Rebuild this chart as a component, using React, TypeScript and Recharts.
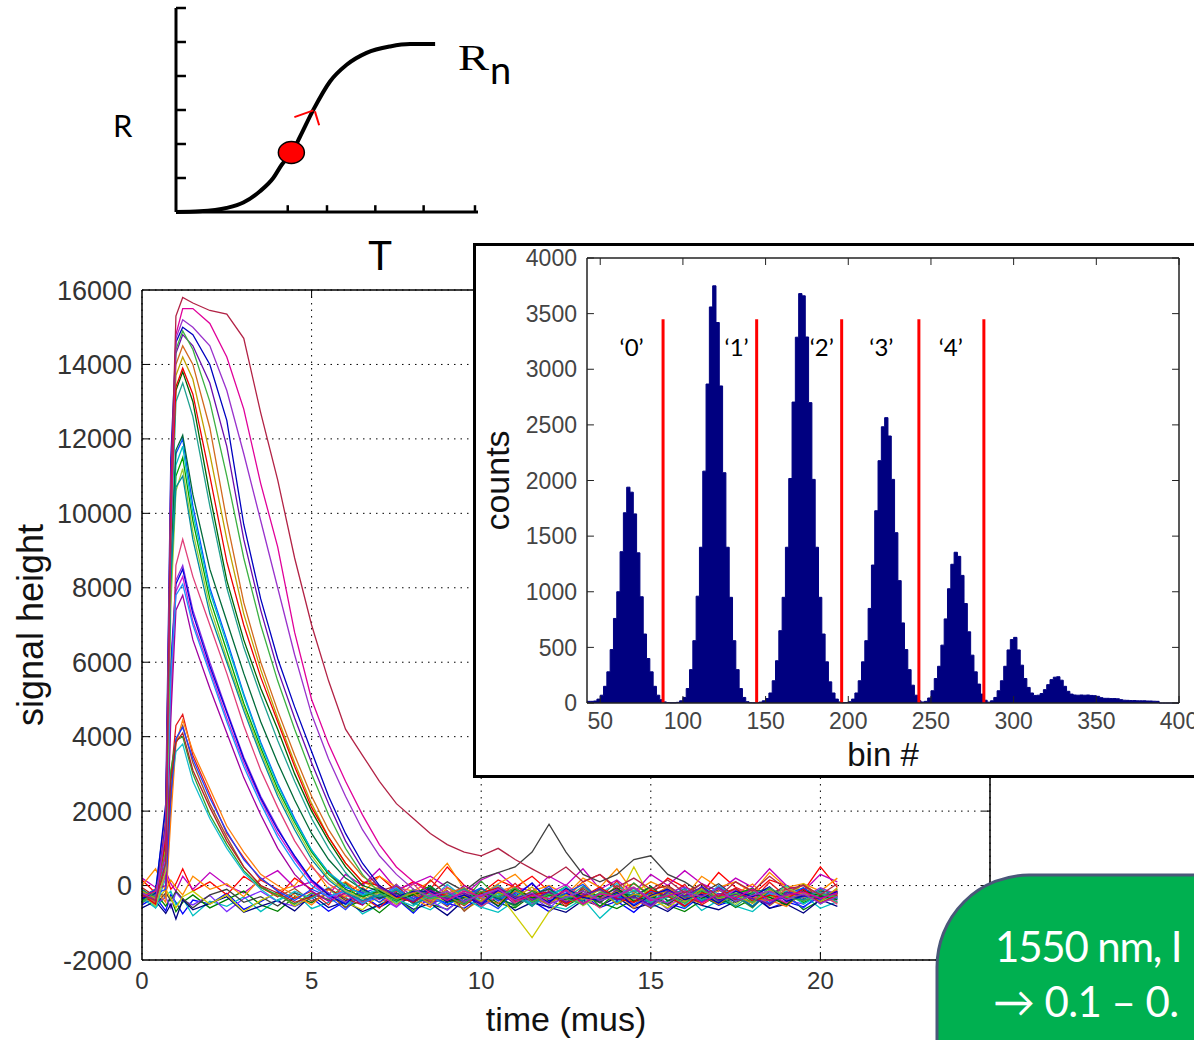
import React from 'react';
import {
  LineChart, Line, XAxis, YAxis, CartesianGrid, ReferenceLine, ReferenceDot,
  ComposedChart, Area, Scatter,
} from 'recharts';

const SANS = '"Liberation Sans", Arial, sans-serif';
const HUMANIST = 'Lato, "Open Sans", sans-serif';

// ---------- R(T) sketch ----------
const rtT = [0, 0.79, 1.68, 2.23, 2.78, 3.22, 3.5, 3.83, 4.11, 4.55, 5.1, 5.65, 6.31, 7.09, 7.75, 8.58];
const rtR = [0, 0.02, 0.12, 0.28, 0.61, 1.0, 1.39, 1.74, 2.22, 3.01, 3.84, 4.33, 4.68, 4.87, 4.94, 4.94];
const rtTTicks = [3.7, 5.0, 6.6, 8.2, 9.9];
const rtRTicks = [1, 2, 3, 4, 5, 6];
const rtBiasPoint = { T: 3.82, R: 1.75 };
const rtSlopeMarks = [
  [{ x: 3.92, y: 2.79 }, { x: 4.55, y: 2.99 }],
  [{ x: 4.6, y: 2.96 }, { x: 4.74, y: 2.55 }],
];

// ---------- pulse traces (signal height vs time) ----------
const timeGrid = [0, 0.4, 0.7, 0.85, 1, 1.2, 1.5, 2, 2.5, 3, 3.5, 4, 4.5, 5, 5.5, 6, 6.5, 7, 7.5, 8,
  8.5, 9, 9.5, 10, 10.5, 11, 11.5, 12, 12.5, 13, 13.5, 14, 14.5, 15, 15.5, 16, 16.5, 17, 17.5, 18,
  18.5, 19, 19.5, 20, 20.5];
const timeTicks = [0, 5, 10, 15, 20, 25];
const signalTicks = [-2000, 0, 2000, 4000, 6000, 8000, 10000, 12000, 14000, 16000];

// no-photon traces
const z1 = [-520, -310, -680, -240, -450, -760, -390, -500, -210, -640, -430, -170, -560, -330, -690, -420, -260, -580, -350, -740, -280, -470, -610, -300, -540, -190, -410, -700, -360, -230, -590, -420, -720, -310, -480, -620, -270, -530, -380, -160, -610, -440, -570, -290, -460];
const z2 = [150, -200, 300, -100, 50, 450, -150, 100, -250, 250, -50, -300, 200, -100, 400, -200, 50, 250, -150, 100, -100, 500, 0, -200, 150, -50, 250, -150, -300, 100, 300, -100, 50, -250, 200, -50, -200, 350, -50, -250, 150, 0, -150, 500, -50];
const z3 = [-350, -600, -280, -150, -520, -340, -810, -420, -560, -300, -700, -380, -180, -620, -450, -300, -760, -520, -240, -470, -650, -330, -200, -580, -720, -410, -280, -530, -640, -350, -880, -460, -300, -590, -420, -220, -670, -390, -550, -700, -310, -480, -260, -610, -430];
const z4 = [200, -50, 400, 50, -150, 250, -100, 350, 0, -200, 150, 400, -50, 100, -250, 300, 0, 450, -100, 50, 250, -50, -250, 150, 350, -50, -150, 250, 0, 450, -100, 150, -200, 300, 0, 400, 50, -150, 200, -50, 450, 0, -150, 300, 100];
const z5 = [-400, -200, -550, -320, -700, -450, -250, -600, -380, -150, -520, -690, -300, -460, -200, -580, -400, -730, -350, -240, -500, -640, -330, -180, -470, -600, -260, -420, -550, -290, -450, -620, -380, -200, -530, -700, -400, -280, -590, -350, -480, -220, -650, -400, -300];
const z6 = [-250, -480, -320, -600, -180, -400, -520, -260, -700, -350, -150, -430, -560, -240, -380, -90, -470, -310, -580, -200, -420, -660, -280, -350, -140, -500, -300, -610, -220, -450, -330, -180, -510, -270, -640, -360, -120, -440, -290, -560, -230, -390, -500, -180, -340];
const z7 = [0, 450, -150, 150, -50, -250, 250, -100, 50, -300, 200, -150, 0, 550, -100, 100, -200, 250, -50, -150, 100, 600, -100, -250, 50, 300, -150, 0, -250, 200, -50, 450, -200, 100, -100, -300, 250, -50, 100, -200, 350, -50, 50, -150, 200];
const z8 = [-600, -420, -750, -500, -900, -380, -650, -480, -300, -720, -550, -400, -680, -260, -590, -430, -700, -520, -350, -640, -480, -800, -390, -560, -300, -670, -450, -580, -720, -400, -550, -310, -620, -480, -700, -360, -530, -650, -420, -280, -610, -500, -740, -380, -560];
const gLate = [-300, -500, -200, -400, -150, -350, -600, -250, -100, -450, -300, -550, -200, -350, -80, -400, -250, -150, -500, -300, -200, 100, -150, 200, 350, 500, 900, 1650, 900, 300, 100, 300, 700, 800, 300, 100, -200, 50, -300, -100, -250, 0, -350, -150, -200];
const yDip = [-200, -450, -100, -350, -600, -300, -150, -500, -250, -700, -400, -200, -550, -300, -100, -450, -650, -250, -400, -150, -500, -300, -650, -400, -200, -800, -1400, -700, -300, -500, -200, -400, 500, -350, -600, -250, -100, -450, -300, -550, -200, -350, 50, -300, -450];

// one-photon traces
const a1 = [-250, -420, 300, 2900, 4300, 4600, 3500, 2450, 1400, 750, 150, -100, -350, -150, -520, 80, -300, -610, -120, -380, 150, -260, -480, -90, -350, 60, -410, -200, -560, -30, -330, 120, -450, -180, -290, 30, -520, -240, -80, -400, 90, -310, -150, -470, -220];
const a2 = [-480, -150, -300, 2200, 3900, 4300, 3300, 2200, 1300, 500, 0, -300, -80, -420, -220, -600, -100, -350, 40, -500, -260, -130, -690, -310, 20, -380, -150, -520, -60, -290, -440, 10, -350, -600, -180, -270, 50, -420, -320, -90, -540, -210, 30, -360, -250];
const a3 = [-100, -350, 600, 3100, 3900, 4000, 3000, 1900, 1100, 400, -50, -250, -500, -200, -380, 60, -450, -170, -320, -700, -90, -240, -410, 120, -330, -560, -140, -280, -20, -470, -230, -380, 70, -310, -520, -160, -400, -40, -290, -600, -130, -350, -210, -480, -100];
const a4 = [-320, -80, -450, 1800, 3800, 4450, 3600, 2600, 1600, 900, 300, 0, -260, -520, -110, -300, -40, -460, -190, -350, -580, -70, -240, -410, -150, -30, -500, -270, -360, 100, -420, -190, -610, -250, -80, -340, -470, -130, -220, 40, -390, -560, -180, -300, -120];
const a5 = [-200, -600, 200, 2600, 3600, 3800, 2800, 1800, 1000, 350, -100, -420, -150, -350, -50, -520, -280, -100, -460, -210, -380, 30, -330, -600, -170, -250, -440, -80, -310, -500, -210, 60, -380, -150, -290, -530, -60, -220, -410, -140, -330, 0, -470, -260, -180];
const a6 = [-380, -220, -100, 2400, 3950, 4250, 3400, 2350, 1450, 700, 200, -150, -400, -100, -300, -650, -200, -50, -380, -170, -520, -280, -90, -350, -620, -150, -300, -20, -460, -260, -130, -400, -210, -550, -30, -320, -180, -490, -250, -70, -420, -300, -600, -200, -350];
const a7 = [-50, -300, 450, 2800, 3850, 4100, 3100, 2100, 1200, 500, 0, -200, -450, -300, -80, -350, -520, -150, -10, -400, -250, -560, -120, -290, -20, -430, -310, -190, -500, -80, -360, -250, -420, -120, 0, -300, -460, -210, -380, -100, -240, -500, -60, -330, -150];

// two-photon traces
const b1 = [-300, -150, 1200, 6000, 8200, 8600, 7400, 6000, 4700, 3450, 2400, 1550, 750, 150, -200, -450, -150, -380, 20, -290, -510, -170, -340, -60, -420, -230, 50, -380, -150, -480, -260, -90, -350, -560, -200, -40, -310, -450, -120, -270, -500, -180, -330, -60, -240];
const b2 = [-450, -200, 500, 5200, 7900, 8300, 7100, 5800, 4500, 3300, 2300, 1400, 700, 100, -350, -150, -420, -230, -560, -100, -300, -40, -470, -260, -350, -120, -490, -200, 30, -330, -440, -160, -270, -50, -520, -300, -180, -400, -90, -350, -220, -460, -130, -280, -400];
const b3 = [-150, -400, 900, 5800, 8100, 8500, 7300, 5900, 4650, 3400, 2350, 1500, 800, 150, -250, -500, -80, -330, -200, -450, -10, -380, -260, -540, -150, -300, 70, -420, -210, -350, -80, -510, -240, -320, -130, -460, -20, -380, -250, -560, -150, -300, -90, -420, -330];
const b4 = [-250, -500, 300, 4800, 8600, 9300, 8300, 7000, 5700, 4300, 3100, 2100, 1200, 500, 50, -250, -480, -100, -320, 40, -400, -230, -130, -560, -280, -50, -350, -190, -420, -300, -600, -150, -40, -380, -260, -110, -450, -330, -70, -250, -480, -160, -310, -220, -500];
const b5 = [-350, -100, 0, 4500, 7400, 7800, 6600, 5300, 4100, 2900, 1900, 1000, 300, -150, -420, -200, -520, -60, -300, -180, -450, -350, 0, -270, -140, -500, -320, -80, -380, -200, -470, -100, -300, -420, -180, -550, -250, -60, -350, -460, -200, -100, -400, -280, -150];
const b6 = [-200, -350, 700, 5600, 7800, 8100, 7000, 5700, 4400, 3200, 2200, 1300, 600, 0, -300, -150, -480, -250, -60, -400, -310, -520, -140, -280, 10, -370, -460, -200, -100, -530, -240, -350, -60, -420, -280, -150, -390, 0, -320, -470, -210, -280, -120, -500, -200];

// three-photon traces
const c1 = [-300, -100, 2000, 9000, 11600, 12000, 10200, 8000, 6600, 5150, 3850, 2750, 1800, 950, 350, -50, -200, -450, -100, -350, -200, -520, -280, -60, -400, -150, -330, -480, -200, 30, -370, -260, -520, -140, -300, -80, -440, -210, -350, -100, -480, -240, -60, -380, -280];
const c2 = [-400, -250, 900, 8000, 11000, 11500, 9800, 7700, 6300, 4900, 3700, 2600, 1700, 900, 300, -100, -300, -150, -420, -230, -10, -360, -500, -170, -300, -90, -440, -260, -370, -120, -560, -200, -310, -40, -420, -150, -300, -500, -220, -80, -390, -160, -450, -300, -200];
const c3 = [-150, -450, 1500, 8700, 11300, 11800, 10000, 7900, 6500, 5100, 3800, 2700, 1750, 950, 350, 0, -250, -100, -380, -550, -200, -320, -60, -430, -250, -150, -520, -300, -40, -380, -200, -460, -120, -350, -250, -600, -170, -320, -80, -410, -270, -150, -500, -230, -350];
const c4 = [-250, -550, 400, 7500, 10600, 11200, 9500, 7500, 6100, 4800, 3600, 2500, 1600, 800, 200, -150, -350, -200, -500, -100, -280, -430, -150, -330, -20, -470, -250, -360, -110, -540, -280, -180, -400, -70, -300, -450, -190, -260, -510, -130, -350, -40, -290, -430, -260];
const c5 = [-350, -200, 1100, 8800, 11700, 12100, 10500, 8500, 7100, 5700, 4400, 3300, 2300, 1400, 700, 200, -100, -350, -200, -480, -60, -300, -410, -170, -350, -520, -230, -90, -380, -250, -450, -140, -300, -20, -400, -280, -150, -490, -330, -200, -70, -420, -260, -350, -180];
const c6 = [-100, -400, 1600, 8200, 10700, 11000, 9300, 7300, 6000, 4700, 3500, 2400, 1500, 700, 150, -200, -400, -250, -120, -500, -310, -200, -450, -70, -330, -240, -560, -150, -290, -400, -60, -350, -220, -480, -180, -320, -70, -430, -260, -550, -150, -280, -380, -100, -300];

// four-photon traces
const d1 = [-200, -450, 1800, 10500, 14000, 14500, 14000, 12300, 9800, 7600, 6000, 4700, 3500, 2400, 1500, 800, 250, -50, -300, -150, -420, -200, -60, -350, -480, -150, -300, -520, -90, -260, -380, -160, -450, -300, -30, -370, -240, -510, -150, -320, -410, -100, -270, -350, -200];
const d2 = [-300, -150, 1400, 10000, 13300, 13800, 13000, 10500, 8200, 6600, 5300, 4200, 3000, 2000, 1200, 500, 0, -150, -400, -250, -100, -450, -320, -200, -560, -80, -330, -240, -470, -150, -300, -60, -420, -280, -500, -170, -350, -100, -450, -230, -310, -520, -140, -280, -380];
const d3 = [-450, -250, 600, 9200, 13000, 13500, 12600, 10200, 8000, 6400, 5100, 3900, 2800, 1800, 1000, 350, -150, -300, -100, -420, -250, -350, -80, -480, -200, -300, -530, -160, -350, -20, -400, -270, -150, -460, -320, -90, -380, -250, -560, -200, -100, -400, -300, -170, -450];
const d4 = [-150, -350, 1000, 9800, 13700, 14200, 13600, 11600, 9300, 7300, 5800, 4500, 3300, 2200, 1300, 600, 100, -100, -350, -200, -500, -60, -300, -420, -180, -330, -40, -460, -250, -370, -110, -500, -230, -300, -150, -420, -80, -350, -260, -480, -120, -300, -200, -430, -60];
const d5 = [-250, -500, 1300, 10200, 13400, 13900, 13200, 11000, 8700, 7000, 5600, 4400, 3200, 2100, 1300, 600, 100, 0, -300, -450, -150, -280, -540, -200, -60, -390, -250, -170, -480, -300, -40, -350, -450, -120, -280, -560, -190, -300, -80, -420, -260, -350, -100, -480, -250];

// five-photon and larger traces
const e1 = [-350, -200, 2200, 11500, 14600, 15000, 14800, 14000, 12500, 9700, 7700, 6100, 4800, 3600, 2400, 1400, 600, 0, -300, -150, -150, -420, -250, -500, -120, -350, -210, -460, -80, -320, -400, -180, -550, -260, -100, -380, -240, -470, -150, -300, -30, -420, -280, -350, -160];
const e2 = [-200, -400, 1700, 11000, 14300, 14800, 14500, 13500, 11800, 9300, 7400, 5800, 4500, 3300, 2200, 1200, 450, -50, -250, -430, -120, -350, -200, -480, -60, -300, -390, -170, -450, -260, -100, -380, -300, -520, -150, -280, -40, -410, -230, -350, -500, -180, -270, -330, -200];
const e3 = [-450, -150, 900, 10300, 14400, 14900, 14400, 13000, 11000, 8800, 7000, 5500, 4200, 3000, 1900, 1000, 300, -200, -400, -100, -350, -270, -520, -150, -300, -60, -440, -230, -350, -510, -180, -290, -70, -400, -250, -480, -130, -330, -200, -450, -60, -310, -420, -230, -300];
const m1 = [-300, -150, 800, 9500, 14800, 15500, 15500, 15100, 14200, 12800, 10800, 9100, 6800, 5000, 3800, 2800, 1900, 1100, 500, 100, -200, -400, -150, -300, -80, -450, -260, -350, -120, -500, -220, -300, -60, -400, -280, -150, -460, -230, -340, -90, -410, -260, -170, -350, -200];
const m2 = [-200, -400, 1500, 10800, 14700, 15200, 15000, 14500, 13300, 11600, 9800, 8000, 6200, 4600, 3400, 2400, 1500, 800, 300, -100, -300, -150, -420, -250, -100, -380, -200, -500, -310, -140, -400, -260, -50, -350, -470, -180, -300, -90, -430, -260, -150, -380, -220, -480, -300];
const f1 = [-250, -400, 600, 10500, 15300, 15800, 15650, 15450, 15350, 14700, 12700, 10900, 8800, 7000, 5500, 4200, 3500, 2800, 2200, 1800, 1400, 1100, 900, 800, 1000, 700, 450, 200, 500, 100, 300, -50, 200, -100, 150, -200, 50, -300, 100, -150, 250, -100, 0, -250, 50];

const traceList = [
  { key: 'z1', color: '#0000ff', values: z1 },
  { key: 'z2', color: '#ff0000', values: z2 },
  { key: 'z3', color: '#00bfbf', values: z3 },
  { key: 'z4', color: '#bf00bf', values: z4 },
  { key: 'z5', color: '#008000', values: z5 },
  { key: 'z6', color: '#7b2fff', values: z6 },
  { key: 'z7', color: '#ff8c00', values: z7 },
  { key: 'z8', color: '#000080', values: z8 },
  { key: 'gLate', color: '#404040', values: gLate },
  { key: 'yDip', color: '#cccc00', values: yDip },
  { key: 'a1', color: '#e41a1c', values: a1 },
  { key: 'a2', color: '#a0522d', values: a2 },
  { key: 'a3', color: '#2ca02c', values: a3 },
  { key: 'a4', color: '#ff7f0e', values: a4 },
  { key: 'a5', color: '#17becf', values: a5 },
  { key: 'a6', color: '#1f3fff', values: a6 },
  { key: 'a7', color: '#b22222', values: a7 },
  { key: 'b1', color: '#8a2be2', values: b1 },
  { key: 'b2', color: '#d020d0', values: b2 },
  { key: 'b3', color: '#0000dd', values: b3 },
  { key: 'b4', color: '#e0407a', values: b4 },
  { key: 'b5', color: '#a000a0', values: b5 },
  { key: 'b6', color: '#1e90ff', values: b6 },
  { key: 'c1', color: '#0050ff', values: c1 },
  { key: 'c2', color: '#00a000', values: c2 },
  { key: 'c3', color: '#00c0c0', values: c3 },
  { key: 'c4', color: '#9acd32', values: c4 },
  { key: 'c5', color: '#006a3a', values: c5 },
  { key: 'c6', color: '#008b9b', values: c6 },
  { key: 'd1', color: '#d2691e', values: d1 },
  { key: 'd2', color: '#006400', values: d2 },
  { key: 'd3', color: '#20a090', values: d3 },
  { key: 'd4', color: '#c0a000', values: d4 },
  { key: 'd5', color: '#ee0000', values: d5 },
  { key: 'e1', color: '#0000c0', values: e1 },
  { key: 'e2', color: '#6a0dad', values: e2 },
  { key: 'e3', color: '#3cb043', values: e3 },
  { key: 'm1', color: '#e0009a', values: m1 },
  { key: 'm2', color: '#9932cc', values: m2 },
  { key: 'f1', color: '#b22245', values: f1 },
];

// ---------- pulse-height histogram ----------
const histStartBin = 42;
const histBinStep = 2;
const histCounts = [
  15, 15, 18, 35, 70, 150, 280, 480, 760, 1000,
  1360, 1710, 1940, 1895, 1700, 1350, 955, 620, 400, 280,
  150, 70, 30, 10, 4, 2, 2, 6, 20, 50,
  130, 300, 560, 960, 1400, 2084, 2867, 3560, 3750, 3420,
  2850, 2070, 1400, 950, 560, 300, 130, 50, 12, 3,
  2, 3, 8, 20, 40, 90, 200, 380, 650, 950,
  1400, 2018, 2705, 3288, 3680, 3660, 3290, 2700, 2010, 1400,
  950, 620, 370, 190, 90, 35, 10, 3, 4, 12,
  35, 90, 200, 370, 560, 850, 1240, 1728, 2178, 2483,
  2565, 2400, 2010, 1531, 1100, 720, 480, 300, 160, 70,
  20, 9, 15, 45, 110, 220, 330, 520, 756, 1027,
  1247, 1355, 1318, 1147, 894, 640, 430, 280, 170, 80,
  25, 8, 20, 50, 110, 200, 330, 477, 570, 590,
  477, 340, 220, 140, 90, 68, 70, 85, 120, 165,
  210, 232, 236, 205, 150, 105, 80, 72, 70, 72,
  70, 72, 68, 66, 60, 48, 42, 42, 40, 40,
  38, 30, 25, 24, 22, 22, 20, 20, 20, 18,
  18, 16, 15, 0, 0, 0, 0, 0, 0, 0,
];
const binTicks = [50, 100, 150, 200, 250, 300, 350, 400];
const countTicks = [0, 500, 1000, 1500, 2000, 2500, 3000, 3500, 4000];
const thresholdBins = [88, 144.6, 196, 242.7, 282];
const thresholdTop = 3450;
const photonLabels = ['‘0’', '‘1’', '‘2’', '‘3’', '‘4’'];
const photonLabelBins = [69, 132.5, 184, 220, 262];
const photonLabelCount = 3170;

const pulseRows = timeGrid.map((t, i) => {
  const row: Record<string, number> = { t };
  traceList.forEach((tr) => { row[tr.key] = tr.values[i]; });
  return row;
});
const histRows = histCounts.map((count, i) => ({ bin: histStartBin + i * histBinStep, count }));
const labelRows = photonLabels.map((text, i) => ({ bin: photonLabelBins[i], count: photonLabelCount, text }));
const rtRows = rtT.map((T, i) => ({ T, R: rtR[i] }));

function RTSketch() {
  return (
    <LineChart width={400} height={240} data={rtRows} margin={{ top: 8, right: 22, bottom: 27, left: 75 }}>
      <XAxis dataKey="T" type="number" domain={[0, 10]} ticks={rtTTicks} interval={0} height={1} tick={false}
        tickLine={false} axisLine={{ stroke: '#000', strokeWidth: 3 }} />
      <YAxis type="number" domain={[0, 6]} ticks={rtRTicks} interval={0} width={1} tick={false}
        tickLine={false} axisLine={{ stroke: '#000', strokeWidth: 3 }} />
      {rtTTicks.map((t) => (
        <ReferenceLine key={'tx' + t} segment={[{ x: t, y: 0 }, { x: t, y: 0.2 }]} stroke="#000" strokeWidth={2.5} />
      ))}
      {rtRTicks.map((r) => (
        <ReferenceLine key={'ty' + r} segment={[{ x: 0, y: r }, { x: 0.33, y: r }]} stroke="#000" strokeWidth={2.5} />
      ))}
      <Line dataKey="R" type="monotone" stroke="#000" strokeWidth={4} dot={false} activeDot={false} isAnimationActive={false} />
      {rtSlopeMarks.map((seg, i) => (
        <ReferenceLine key={'slope' + i} segment={seg} stroke="#ff0000" strokeWidth={2} />
      ))}
      <ReferenceDot x={rtBiasPoint.T} y={rtBiasPoint.R} r={12}
        shape={(p: any) => <ellipse cx={p.cx} cy={p.cy} rx={13} ry={11} fill="#ff0000" stroke="#000" strokeWidth={1.5} />} />
    </LineChart>
  );
}

function PulseChart() {
  const tickFont = { fontSize: 24, fill: '#333', fontFamily: SANS };
  return (
    <LineChart width={1000} height={770} data={pulseRows} margin={{ top: 20, right: 10, bottom: 0, left: 0 }}>
      <CartesianGrid stroke="#000" strokeDasharray="1.5 5" />
      <XAxis dataKey="t" type="number" domain={[0, 25]} ticks={timeTicks} interval={0} height={80}
        axisLine={{ stroke: '#000', strokeWidth: 1.5 }} tickLine={false}
        tickSize={-8} tickMargin={20} tick={tickFont}
        tickFormatter={(v: number) => (v === 25 ? '' : String(v))}
        label={{ value: 'time (mus)', position: 'insideBottom', offset: 9, fontSize: 34, fill: '#111', fontFamily: SANS }} />
      <YAxis type="number" domain={[-2000, 16000]} ticks={signalTicks} interval={0} width={142}
        axisLine={{ stroke: '#000', strokeWidth: 1.5 }} tickLine={false}
        tickSize={-8} tickMargin={18} tick={{ ...tickFont, fontSize: 27 }}
        label={{ value: 'signal height', angle: -90, position: 'insideLeft', offset: 30, fontSize: 36, fill: '#111', fontFamily: SANS, style: { textAnchor: 'middle' } }} />
      <ReferenceLine y={16000} stroke="#000" strokeWidth={1.5} />
      <ReferenceLine x={25} stroke="#000" strokeWidth={1.5} />
      {timeTicks.slice(1, -1).map((t) => (
        <ReferenceLine key={'top' + t} segment={[{ x: t, y: 16000 }, { x: t, y: 15785 }]} stroke="#000" />
      ))}
      {timeTicks.slice(1, -1).map((t) => (
        <ReferenceLine key={'bot' + t} segment={[{ x: t, y: -2000 }, { x: t, y: -1785 }]} stroke="#000" />
      ))}
      {signalTicks.slice(1, -1).map((v) => (
        <ReferenceLine key={'right' + v} segment={[{ x: 25, y: v }, { x: 24.76, y: v }]} stroke="#000" />
      ))}
      {signalTicks.slice(1, -1).map((v) => (
        <ReferenceLine key={'left' + v} segment={[{ x: 0, y: v }, { x: 0.24, y: v }]} stroke="#000" />
      ))}
      {traceList.map((tr) => (
        <Line key={tr.key} dataKey={tr.key} type="linear" stroke={tr.color} strokeWidth={1.3}
          dot={false} activeDot={false} isAnimationActive={false} />
      ))}
    </LineChart>
  );
}

function HistogramInset() {
  const tickFont = { fontSize: 23, fill: '#444', fontFamily: SANS };
  return (
    <ComposedChart width={724} height={529} data={histRows} margin={{ top: 12, right: 21, bottom: 0, left: 0 }}>
      <XAxis dataKey="bin" type="number" domain={[42, 400]} ticks={binTicks} interval={0} height={72}
        axisLine={{ stroke: '#222', strokeWidth: 1.5 }} tickLine={false}
        tickSize={-7} tickMargin={17} tick={tickFont}
        label={{ value: 'bin #', position: 'insideBottom', offset: 9, fontSize: 33, fill: '#111', fontFamily: SANS }} />
      <YAxis type="number" domain={[0, 4000]} ticks={countTicks} interval={0} width={111}
        axisLine={{ stroke: '#222', strokeWidth: 1.5 }} tickLine={false}
        tickSize={-7} tickMargin={17} tick={tickFont}
        label={{ value: 'counts', angle: -90, position: 'insideLeft', offset: 21, fontSize: 34, fill: '#111', fontFamily: SANS, style: { textAnchor: 'middle' } }} />
      <ReferenceLine y={4000} stroke="#222" strokeWidth={1.5} />
      <ReferenceLine x={400} stroke="#222" strokeWidth={1.5} />
      <Area type="stepAfter" dataKey="count" stroke="#000080" strokeWidth={1} fill="#000080" fillOpacity={1}
        dot={false} activeDot={false} isAnimationActive={false} />
      {binTicks.map((b) => (
        <ReferenceLine key={'top' + b} segment={[{ x: b, y: 4000 }, { x: b, y: 3937 }]} stroke="#222" />
      ))}
      {binTicks.map((b) => (
        <ReferenceLine key={'bot' + b} segment={[{ x: b, y: 0 }, { x: b, y: 63 }]} stroke="#222" />
      ))}
      {countTicks.map((c) => (
        <ReferenceLine key={'right' + c} segment={[{ x: 400, y: c }, { x: 395.8, y: c }]} stroke="#222" />
      ))}
      {countTicks.map((c) => (
        <ReferenceLine key={'left' + c} segment={[{ x: 42, y: c }, { x: 46.2, y: c }]} stroke="#222" />
      ))}
      {thresholdBins.map((b) => (
        <ReferenceLine key={'thr' + b} segment={[{ x: b, y: 0 }, { x: b, y: thresholdTop }]} stroke="#ff0000" strokeWidth={3} />
      ))}
      <Scatter data={labelRows} dataKey="count" isAnimationActive={false}
        shape={(p: any) => (
          <text x={p.cx} y={p.cy} textAnchor="middle" dominantBaseline="middle" fontSize={24} fontFamily={HUMANIST} fill="#000">
            {p.payload.text}
          </text>
        )} />
    </ComposedChart>
  );
}

export default function App() {
  return (
    <div style={{ position: 'absolute', left: 0, top: 0, width: 1194, height: 1040, overflow: 'hidden', background: '#fff' }}>
      <div style={{ position: 'absolute', left: 0, top: 270, width: 1000, height: 770, zIndex: 1 }}>
        <PulseChart />
      </div>
      <div style={{ position: 'absolute', left: 100, top: 0, width: 400, height: 240, zIndex: 1 }}>
        <RTSketch />
      </div>
      <div style={{ position: 'absolute', left: 473, top: 243, width: 730, height: 535, boxSizing: 'border-box',
        border: '3px solid #000', background: '#fff', zIndex: 2 }}>
        <HistogramInset />
      </div>
      <svg width={1194} height={1040} style={{ position: 'absolute', left: 0, top: 0, zIndex: 3, pointerEvents: 'none' }}>
        <text x={113} y={137} fontSize={31} fontFamily={HUMANIST} fill="#000">R</text>
        <text x={380} y={270} fontSize={40} fontFamily={HUMANIST} fill="#000" textAnchor="middle">T</text>
        <text x={458} y={70} fontSize={36} fontFamily='"Liberation Serif", serif' fill="#000"
          textLength={31} lengthAdjust="spacingAndGlyphs">R</text>
        <text x={490} y={84} fontSize={38} fontFamily={HUMANIST} fill="#000">n</text>
        <rect x={937} y={875} width={420} height={320} rx={92} ry={92} fill="#00b050" stroke="#4a5779" strokeWidth={3} />
        <text x={995} y={962} fontSize={42} letterSpacing={-1.2} fontFamily={HUMANIST} fill="#fff">1550 nm, I</text>
        <text x={993} y={1017} fontSize={42} letterSpacing={-0.6} fontFamily={HUMANIST} fill="#fff">→ 0.1 – 0.</text>
      </svg>
    </div>
  );
}
